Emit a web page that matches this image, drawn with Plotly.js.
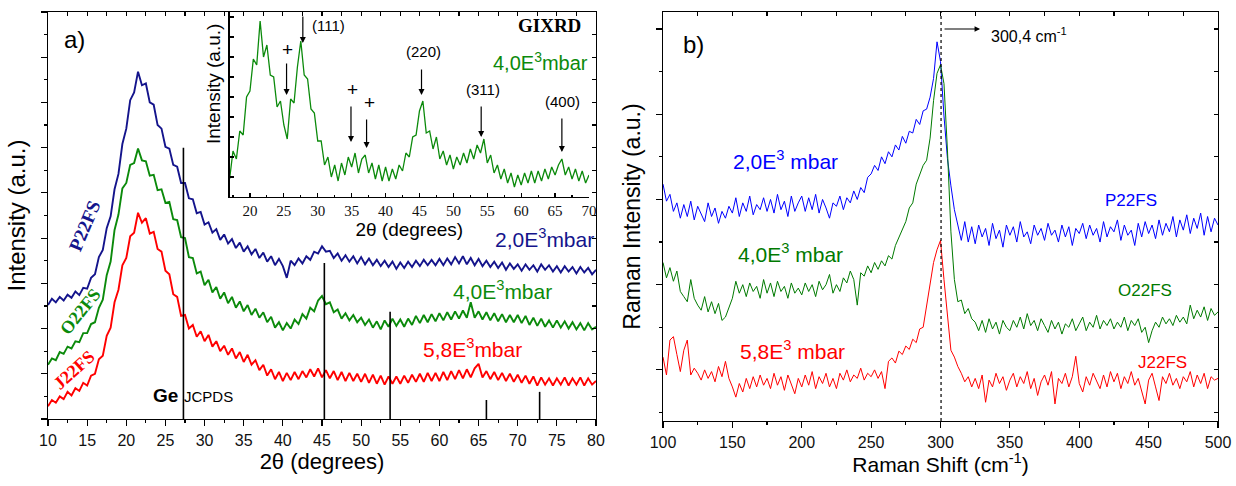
<!DOCTYPE html>
<html><head><meta charset="utf-8">
<script src="https://cdn.plot.ly/plotly-3.0.1.min.js"></script>
<style>html,body{margin:0;padding:0;background:#fff}#chart{width:1236px;height:486px}</style>
</head><body><div id="chart"></div>
<script>
// ---------- DATA ----------
// Panel a) XRD, 2theta from 10 to 80 step 0.5
const xrdStart = 10, xrdStep = 0.5;
const xrdP22FS = [
 2.52,2.66,2.58,2.70,2.62,2.75,2.68,2.82,2.74,2.90,
 2.88,3.12,3.20,3.58,3.74,4.22,4.48,5.08,5.42,6.08,
 6.42,7.05,7.22,7.68,7.38,7.42,7.00,6.95,6.50,6.42,
 6.02,5.98,5.62,5.58,5.22,5.22,4.88,4.86,4.55,4.58,
 4.30,4.35,4.12,4.20,3.96,4.08,3.88,3.98,3.78,3.90,
 3.70,3.82,3.64,3.76,3.56,3.68,3.48,3.60,3.40,3.54,
 3.38,3.12,3.50,3.40,3.55,3.44,3.60,3.52,3.70,3.66,
 3.82,3.70,3.72,3.56,3.66,3.50,3.62,3.48,3.60,3.44,
 3.58,3.42,3.55,3.40,3.52,3.38,3.50,3.36,3.48,3.32,
 3.46,3.34,3.48,3.36,3.50,3.38,3.52,3.40,3.52,3.40,
 3.54,3.40,3.55,3.42,3.58,3.44,3.60,3.42,3.56,3.40,
 3.54,3.38,3.50,3.36,3.48,3.34,3.46,3.30,3.44,3.32,
 3.42,3.28,3.42,3.30,3.40,3.26,3.42,3.30,3.40,3.26,
 3.38,3.24,3.38,3.26,3.36,3.22,3.36,3.24,3.34,3.20,
 3.30];
const xrdO22FS = [
 1.20,1.34,1.30,1.48,1.44,1.60,1.56,1.72,1.70,1.90,
 1.90,2.10,2.14,2.46,2.64,3.18,3.48,4.18,4.52,5.10,
 5.22,5.62,5.66,5.98,5.72,5.70,5.38,5.40,5.06,5.08,
 4.78,4.80,4.42,4.40,4.02,4.00,3.58,3.56,3.22,3.26,
 2.96,3.08,2.80,2.92,2.66,2.80,2.56,2.70,2.46,2.60,
 2.38,2.52,2.30,2.44,2.24,2.36,2.14,2.26,2.02,2.14,
 1.96,2.12,2.00,2.20,2.10,2.32,2.22,2.46,2.38,2.62,
 2.72,2.54,2.58,2.36,2.42,2.22,2.34,2.18,2.30,2.14,
 2.24,2.08,2.20,2.02,2.16,1.98,2.18,2.04,2.22,2.06,
 2.20,2.04,2.22,2.08,2.28,2.12,2.30,2.14,2.32,2.16,
 2.34,2.18,2.36,2.20,2.38,2.22,2.40,2.24,2.58,2.24,
 2.38,2.20,2.36,2.18,2.34,2.16,2.32,2.14,2.30,2.14,
 2.30,2.12,2.28,2.08,2.24,2.06,2.22,2.04,2.18,2.02,
 2.18,2.02,2.16,2.00,2.14,1.98,2.12,1.96,2.12,1.98,
 2.04];
const xrdJ22FS = [
 0.28,0.42,0.36,0.50,0.44,0.60,0.52,0.68,0.62,0.80,
 0.74,0.96,1.00,1.32,1.40,1.84,2.02,2.58,2.86,3.40,
 3.56,4.04,4.12,4.56,4.34,4.44,4.10,4.14,3.76,3.70,
 3.28,3.20,2.76,2.70,2.28,2.30,2.00,2.08,1.82,1.94,
 1.72,1.86,1.60,1.72,1.50,1.62,1.42,1.56,1.34,1.48,
 1.26,1.42,1.20,1.30,1.08,1.20,0.96,1.10,0.88,1.04,
 0.84,1.02,0.86,1.04,0.88,1.06,0.92,1.10,0.94,1.12,
 0.92,1.08,0.90,1.06,0.86,1.04,0.84,1.02,0.84,1.00,
 0.82,1.00,0.80,0.98,0.78,0.96,0.76,0.94,0.78,0.94,
 0.78,0.96,0.80,0.98,0.82,1.00,0.82,1.02,0.84,1.02,
 0.84,1.04,0.86,1.06,0.88,1.08,0.90,1.10,0.92,1.12,
 1.22,0.92,1.06,0.88,1.04,0.86,1.02,0.84,1.00,0.82,
 0.98,0.80,0.96,0.78,0.94,0.74,0.92,0.76,0.90,0.74,
 0.90,0.76,0.92,0.74,0.90,0.76,0.92,0.74,0.90,0.76,
 0.84];
// Ge JCPDS reference lines
const gePos = [27.3, 45.3, 53.7, 66.0, 72.8];
const geHeight = [6.0, 3.45, 2.37, 0.42, 0.60];
const xrdLabels = ['P22FS', 'O22FS', 'J22FS'];
const xrdPressures = ['2,0E<sup>3</sup>mbar', '4,0E<sup>3</sup>mbar', '5,8E<sup>3</sup>mbar'];

// Inset GIXRD (O22FS), 2theta 17 to 70 step 0.5
const gixStart = 17, gixStep = 0.5;
const gixrdO22FS = [
 0.9,2.3,1.9,3.3,3.1,5.0,5.3,6.9,6.6,8.8,
 7.0,7.6,6.1,6.0,4.5,4.8,3.6,2.9,4.9,4.7,
 6.5,7.8,6.1,5.9,4.4,4.2,2.8,2.8,1.6,2.0,
 1.0,1.6,0.8,1.7,1.1,2.0,1.5,2.2,1.2,1.9,
 2.1,1.2,1.7,0.9,1.6,0.8,1.5,0.8,1.4,0.9,
 1.6,1.3,2.2,2.0,3.0,3.1,4.3,4.8,3.2,3.3,
 2.4,3.0,1.9,2.3,1.6,2.1,1.4,2.0,1.6,2.2,
 1.7,2.4,1.9,2.6,2.2,2.9,1.7,2.1,1.2,1.6,
 0.9,1.4,0.7,1.2,0.5,1.1,0.6,1.2,0.7,1.3,
 0.7,1.3,0.8,1.4,0.9,1.5,1.1,1.6,1.9,1.1,
 1.5,0.9,1.4,0.8,1.3,0.7,
 1.1];
const gixPeakPos = [27.8, 25.4, 34.9, 37.2, 45.3, 54.1, 66.0];
const gixPeakLabel = ['(111)', '+', '+', '+', '(220)', '(311)', '(400)'];
const gixArrowHead = [7.7, 5.1, 2.75, 2.45, 5.1, 3.0, 2.25];

// Panel b) Raman, 100 to 500 cm-1 step 2.5
const ramStart = 100, ramStep = 2.5;
const ramanP22FS = [
 3.18,2.98,3.06,2.86,2.96,2.78,2.94,2.80,2.98,2.76,
 2.92,2.82,2.74,2.96,2.80,2.90,2.72,2.86,2.78,2.92,
 2.84,3.02,2.80,2.96,2.86,3.04,2.82,2.94,2.88,3.02,
 2.86,3.00,2.84,3.06,2.88,2.98,2.80,3.04,2.86,2.96,
 3.04,2.86,3.02,2.88,3.06,2.84,3.00,2.90,2.78,2.96,
 2.92,3.04,2.88,3.02,2.96,3.10,3.00,3.14,3.08,3.26,
 3.30,3.40,3.34,3.50,3.42,3.56,3.50,3.64,3.58,3.74,
 3.66,3.80,3.78,3.94,3.88,4.04,4.06,4.20,4.42,4.85,
 4.62,3.98,3.48,3.16,2.88,2.70,2.52,2.74,2.50,2.68,
 2.48,2.70,2.56,2.66,2.46,2.72,2.54,2.64,2.44,2.70,
 2.58,2.68,2.50,2.74,2.56,2.62,2.48,2.70,2.58,2.66,
 2.52,2.72,2.58,2.64,2.50,2.70,2.56,2.68,2.46,2.66,
 2.60,2.72,2.54,2.70,2.58,2.66,2.50,2.74,2.56,2.68,
 2.62,2.76,2.52,2.70,2.58,2.64,2.46,2.72,2.56,2.74,
 2.60,2.70,2.54,2.76,2.58,2.72,2.62,2.80,2.56,2.76,
 2.64,2.82,2.60,2.78,2.66,2.84,2.58,2.80,2.62,2.78,
 2.70];
const ramanO22FS = [
 2.26,2.08,2.20,2.04,2.16,1.92,1.86,1.80,2.06,1.84,
 1.76,1.70,1.86,1.68,1.80,1.66,1.78,1.58,1.62,1.74,
 1.84,2.04,1.90,2.00,1.86,2.02,1.92,1.98,1.84,2.06,
 1.90,2.02,1.86,2.04,1.92,1.98,1.84,2.02,1.90,1.96,
 1.88,2.02,1.92,2.00,1.86,2.04,1.94,2.00,2.12,1.90,
 2.00,1.92,2.08,2.02,2.16,2.06,1.76,2.14,2.10,2.22,
 2.14,2.26,2.18,2.28,2.22,2.34,2.30,2.46,2.56,2.64,
 2.74,2.90,2.96,3.18,3.28,3.40,3.46,3.72,4.16,4.48,
 4.58,4.36,3.58,2.62,2.06,1.80,1.82,1.66,1.72,1.60,
 1.56,1.46,1.58,1.44,1.60,1.48,1.56,1.42,1.58,1.50,
 1.46,1.58,1.50,1.62,1.48,1.66,1.52,1.58,1.46,1.60,
 1.52,1.44,1.58,1.48,1.56,1.42,1.54,1.50,1.60,1.46,
 1.54,1.62,1.46,1.56,1.50,1.64,1.48,1.58,1.52,1.60,
 1.48,1.56,1.50,1.62,1.46,1.58,1.52,1.60,1.44,1.50,
 1.32,1.46,1.56,1.50,1.62,1.54,1.60,1.52,1.64,1.56,
 1.62,1.54,1.76,1.60,1.70,1.62,1.74,1.58,1.72,1.64,
 1.68];
const ramanJ22FS = [
 1.15,0.94,1.35,1.39,1.18,0.98,1.23,1.35,0.94,1.02,
 0.96,0.88,1.00,0.90,0.98,0.86,1.04,0.92,1.10,0.90,
 0.80,0.68,0.84,0.74,0.90,0.78,0.92,0.80,0.94,0.82,
 0.90,0.78,0.96,0.82,0.92,0.76,0.94,0.84,0.72,0.90,
 0.80,0.94,0.82,0.98,0.78,0.92,0.84,0.96,0.80,0.90,
 0.78,0.96,0.88,1.00,0.86,0.94,0.90,1.02,0.88,0.96,
 0.92,1.00,0.90,0.98,0.78,1.10,1.14,1.08,1.22,1.18,
 1.28,1.24,1.36,1.32,1.48,1.50,1.74,1.97,2.26,2.41,
 2.52,2.06,1.67,1.23,1.15,1.04,0.96,0.86,0.92,0.80,
 0.90,0.78,0.94,0.62,0.88,0.80,0.96,0.84,0.92,0.76,
 0.88,0.96,0.80,0.92,0.84,0.98,0.78,0.90,0.70,0.86,
 0.94,0.82,0.98,0.60,0.90,0.84,0.96,0.80,0.92,1.16,
 0.84,0.74,0.92,0.82,0.96,0.86,0.78,0.94,0.80,0.98,
 0.86,0.96,0.78,0.92,0.84,0.98,0.82,0.90,0.76,0.60,
 0.88,0.96,0.80,0.64,0.92,0.84,0.96,0.82,0.90,0.78,
 0.92,0.86,0.98,0.80,0.94,0.84,0.96,0.78,0.92,0.88,
 0.90];
const ramanPeak = 300.4;
const ramanPressures = ['2,0E<sup>3</sup> mbar', '4,0E<sup>3</sup> mbar', '5,8E<sup>3</sup> mbar'];

// ---------- STYLE ----------
const SANS = 'Liberation Sans, Arial, sans-serif';
const SERIF = 'Liberation Serif, Times New Roman, serif';
const NAVY = '#14148c', GREEN_A = '#0b8a0b', RED = '#ff0000';
const BLUE_B = '#0000ff', GREEN_B = '#007a00';
const W = 1236, H = 486;
const px = v => v / W, py = v => 1 - v / H;

// ---------- TRACES ----------
const traces = [];
[[xrdP22FS, NAVY], [xrdO22FS, GREEN_A], [xrdJ22FS, RED]].forEach(([ys, c], i) => {
  traces.push({type:'scatter', mode:'lines', x0:xrdStart, dx:xrdStep, y:ys, name:xrdLabels[i],
    line:{color:c, width:1.9}, xaxis:'x', yaxis:'y', showlegend:false, hoverinfo:'skip'});
});
const geX = [], geY = [];
gePos.forEach((p, i) => { geX.push(p, p, null); geY.push(0, geHeight[i], null); });
traces.push({type:'scatter', mode:'lines', x:geX, y:geY, line:{color:'#000', width:1.6},
  xaxis:'x', yaxis:'y', showlegend:false, hoverinfo:'skip'});
traces.push({type:'scatter', mode:'lines', x0:gixStart, dx:gixStep, y:gixrdO22FS, name:'GIXRD O22FS',
  line:{color:GREEN_A, width:1.3}, xaxis:'x3', yaxis:'y3', showlegend:false, hoverinfo:'skip'});
[[ramanP22FS, BLUE_B], [ramanO22FS, GREEN_B], [ramanJ22FS, RED]].forEach(([ys, c], i) => {
  traces.push({type:'scatter', mode:'lines', x0:ramStart, dx:ramStep, y:ys, name:xrdLabels[i],
    line:{color:c, width:1}, xaxis:'x2', yaxis:'y2', showlegend:false, hoverinfo:'skip'});
});
traces.push({type:'scatter', x:[], y:[], xaxis:'x5', yaxis:'y', showlegend:false});
traces.push({type:'scatter', x:[], y:[], xaxis:'x', yaxis:'y5', showlegend:false});
traces.push({type:'scatter', x:[], y:[], xaxis:'x6', yaxis:'y2', showlegend:false});
traces.push({type:'scatter', x:[], y:[], xaxis:'x2', yaxis:'y6', showlegend:false});

// ---------- AXES ----------
const base = {showgrid:false, zeroline:false, linecolor:'#000', linewidth:1.3, tickcolor:'#000', tickwidth:1.2};
const tickFont = {family:SANS, size:16, color:'#111'};
const domAx = [px(48), px(596)], domAy = [py(419), py(12)];
const domBx = [px(663), px(1218)], domBy = [py(421), py(12)];
const domIx = [px(229.6), px(589)], domIy = [py(197), py(12)];

const layout = {
  width:W, height:H, margin:{l:0, r:0, t:0, b:0},
  paper_bgcolor:'#fff', plot_bgcolor:'rgba(0,0,0,0)', showlegend:false,
  font:{family:SANS, color:'#000'},
  xaxis:Object.assign({}, base, {domain:domAx, anchor:'y', range:[10,80], tick0:10, dtick:5,
    ticks:'outside', ticklen:6, minor:{dtick:2.5, tick0:10, ticks:'outside', ticklen:3, tickcolor:'#000'},
    showline:true, mirror:true, tickfont:tickFont,
    title:{text:'2θ (degrees)', font:{family:SANS, size:22}, standoff:6}}),
  yaxis:Object.assign({}, base, {domain:domAy, anchor:'x', range:[0,9], tick0:0, dtick:1,
    ticks:'outside', ticklen:6, minor:{dtick:0.5, tick0:0, ticks:'outside', ticklen:3, tickcolor:'#000'},
    showticklabels:false, showline:true, mirror:true,
    title:{text:'Intensity (a.u.)', font:{family:SANS, size:24}, standoff:8}}),
  xaxis5:Object.assign({}, base, {overlaying:'x', anchor:'y', side:'top', range:[10,80], tick0:10, dtick:2.5,
    ticks:'inside', ticklen:4, showticklabels:false, showline:false}),
  yaxis5:Object.assign({}, base, {overlaying:'y', anchor:'x', side:'right', range:[0,9], tick0:0, dtick:0.5,
    ticks:'inside', ticklen:4, showticklabels:false, showline:false}),
  xaxis3:Object.assign({}, base, {domain:domIx, anchor:'y3', range:[17,70], tick0:0, dtick:5,
    ticks:'inside', ticklen:4, minor:{dtick:2.5, tick0:0, ticks:'inside', ticklen:2, tickcolor:'#000'},
    showline:true, mirror:false, linewidth:1.2, tickfont:{family:SERIF, size:15, color:'#111'},
    title:{text:'2θ (degrees)', font:{family:SANS, size:19}, standoff:4}}),
  yaxis3:Object.assign({}, base, {domain:domIy, anchor:'x3', range:[0,9.25], tick0:0, dtick:1,
    ticks:'inside', ticklen:4, showticklabels:false, showline:true, mirror:false, linewidth:1.2}),
  xaxis2:Object.assign({}, base, {domain:domBx, anchor:'y2', range:[100,500], tick0:100, dtick:50,
    ticks:'outside', ticklen:6, minor:{dtick:25, tick0:100, ticks:'outside', ticklen:3, tickcolor:'#000'},
    showline:true, mirror:true, tickfont:tickFont,
    title:{text:'Raman Shift (cm<sup>-1</sup>)', font:{family:SANS, size:21}, standoff:6}}),
  yaxis2:Object.assign({}, base, {domain:domBy, anchor:'x2', range:[0.4,5.2], tick0:0, dtick:1,
    ticks:'outside', ticklen:6, minor:{dtick:0.5, tick0:0, ticks:'outside', ticklen:3, tickcolor:'#000'},
    showticklabels:false, showline:true, mirror:true,
    title:{text:'Raman Intensity (a.u.)', font:{family:SANS, size:23}, standoff:8}}),
  xaxis6:Object.assign({}, base, {overlaying:'x2', anchor:'y2', side:'top', range:[100,500], tick0:100, dtick:25,
    ticks:'inside', ticklen:4, showticklabels:false, showline:false}),
  yaxis6:Object.assign({}, base, {overlaying:'y2', anchor:'x2', side:'right', range:[0.4,5.2], tick0:0, dtick:0.5,
    ticks:'inside', ticklen:4, showticklabels:false, showline:false}),
  shapes:[{type:'line', xref:'x2', yref:'y2 domain', x0:ramanPeak, x1:ramanPeak, y0:0, y1:1,
    line:{color:'#000', width:1.2, dash:'dot'}}],
  annotations:[]
};

const A = layout.annotations;
const txt = (t, x, y, font, extra) => A.push(Object.assign({text:t, x:px(x), y:py(y), xref:'paper', yref:'paper',
  showarrow:false, xanchor:'center', yanchor:'middle', font:font}, extra || {}));

// panel a
txt('a)', 74, 40, {family:SANS, size:24, color:'#000'});
txt('<b>' + xrdLabels[0] + '</b>', 84, 226, {family:SERIF, size:19, color:NAVY}, {textangle:-67});
txt('<b>' + xrdLabels[1] + '</b>', 80, 312, {family:SERIF, size:18, color:GREEN_A}, {textangle:-51});
txt('<b>' + xrdLabels[2] + '</b>', 74, 370, {family:SERIF, size:18, color:RED}, {textangle:-42});
txt(xrdPressures[0], 596, 238, {family:SANS, size:21, color:NAVY}, {xanchor:'right'});
txt(xrdPressures[1], 502, 290, {family:SANS, size:21, color:GREEN_A});
txt(xrdPressures[2], 472, 348, {family:SANS, size:21, color:RED});
txt('<b>Ge</b>', 165, 395, {family:SANS, size:19, color:'#000'});
txt('JCPDS', 208, 396, {family:SANS, size:15, color:'#000'});
// inset
txt('Intensity (a.u.)', 213, 84, {family:SANS, size:19, color:'#000'}, {textangle:-90});
txt('<b>GIXRD</b>', 549, 26, {family:SERIF, size:19, color:'#000'});
txt(xrdPressures[1], 590, 62, {family:SANS, size:20, color:GREEN_A}, {xanchor:'right'});
const gixLabelPx = [[329,25],[287,49],[352,90],[369,103],[423,52],[483,89],[562,101]];
const gixArrowLen = [28, 33, 37, 30, 27, 32, 35];
gixPeakPos.forEach((p, i) => {
  A.push({x:p, y:gixArrowHead[i], xref:'x3', yref:'y3', text:'', showarrow:true,
    ax:0, ay:-gixArrowLen[i], arrowhead:2, arrowsize:1, arrowwidth:1.2, arrowcolor:'#000'});
  const isPlus = gixPeakLabel[i] === '+';
  txt(gixPeakLabel[i], gixLabelPx[i][0], gixLabelPx[i][1], {family:SANS, size:isPlus ? 19 : 15, color:'#000'});
});
// panel b
txt('b)', 693, 45, {family:SANS, size:24, color:'#000'});
txt(ramanPressures[0], 785, 160, {family:SANS, size:21, color:BLUE_B});
txt(ramanPressures[1], 790, 253, {family:SANS, size:21, color:GREEN_B});
txt(ramanPressures[2], 792, 350, {family:SANS, size:21, color:RED});
txt(xrdLabels[0], 1131, 200, {family:SANS, size:17, color:BLUE_B});
txt(xrdLabels[1], 1145, 290, {family:SANS, size:17, color:GREEN_B});
txt(xrdLabels[2], 1162, 362, {family:SANS, size:17, color:RED});
A.push({x:328.5, y:5.0, xref:'x2', yref:'y2', text:'', showarrow:true, ax:-37, ay:0,
  arrowhead:2, arrowsize:1, arrowwidth:1.1, arrowcolor:'#000'});
txt(String(ramanPeak).replace('.', ',') + ' cm<sup>-1</sup>', 989, 35, {family:SANS, size:16, color:'#000'}, {xanchor:'left'});

Plotly.newPlot('chart', traces, layout, {staticPlot:true, displayModeBar:false});
</script></body></html>
